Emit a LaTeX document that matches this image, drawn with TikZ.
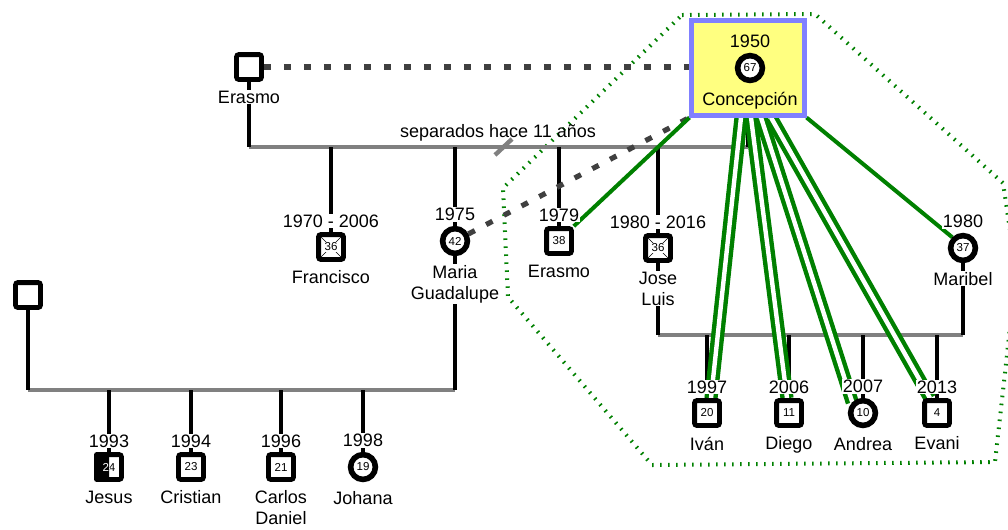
\documentclass[tikz,border=0pt]{standalone}
\usepackage{fontspec}
\setmainfont{Liberation Sans}
\usetikzlibrary{positioning,backgrounds}

\setlength{\fboxsep}{0.5pt}
\newcommand{\txt}{\fontsize{12.8pt}{15pt}\selectfont}
\newcommand{\edad}{\fontsize{8.2pt}{9pt}\selectfont}
\newcommand{\muerto}[1]{\colorbox{white}{#1}}

\definecolor{verde}{HTML}{008000}
\definecolor{amarillo}{HTML}{FFFF80}
\definecolor{lila}{HTML}{8080FF}
\definecolor{gris}{HTML}{808080}
\definecolor{grisosc}{HTML}{404040}

\tikzset{
  hombre/.style={draw, fill=white, line width=0.12cm, rounded corners=1.5pt,
    minimum size=0.62cm, inner sep=0pt, font=\edad},
  mujer/.style={draw, fill=white, circle, line width=0.14cm,
    minimum size=0.62cm, inner sep=0pt, font=\edad},
  fallecido/.style={path picture={
    \draw[line width=0.3pt] (path picture bounding box.north west) -- (path picture bounding box.south east)
      (path picture bounding box.north east) -- (path picture bounding box.south west);}},
  anio/.style={fill=white, inner sep=0.5pt, font=\txt, above=0.1cm of #1},
  nombre/.style={fill=white, inner sep=0.5pt, font=\txt, align=center, below=0.2cm of #1},
  linea/.style={line width=0.11cm},
  union/.style={draw=gris, line width=0.11cm},
  cercana/.style={draw=verde, line width=0.1cm},
  fusionada/.style={draw=verde, line width=0.11cm, double=white, double distance=0.11cm},
  distante/.style={draw=grisosc, line width=0.13cm, dash pattern=on 0.18cm off 0.32cm},
  hogar/.style={draw=verde, line width=0.1cm, dash pattern=on 0.04cm off 0.16cm},
}

\begin{document}
\begin{tikzpicture}[x=0.025cm, y=-0.025cm]
  \useasboundingbox (0,0) rectangle (1008,529);

  % abuelos
  \node[hombre] (erasmo) at (249,67) {};
  \node[nombre=erasmo] (erasmoN) {Erasmo};
  \node[draw=lila, fill=amarillo, line width=0.125cm, minimum width=2.8cm, minimum height=2.35cm] (conc) at (748,68) {};
  \node[mujer] (concc) at (750,68) {67};
  \node[anio=concc, fill=none] (conccA) {1950};
  \node[nombre=concc, fill=none] (conccN) {Concepción};
  \node[font=\txt] (separados) at (498,133) {separados hace 11 años};

  % hijos
  \node[hombre, fallecido] (francisco) at (331,247) {\muerto{36}};
  \node[anio=francisco] (franciscoA) {1970 - 2006};
  \node[nombre=francisco] (franciscoN) {Francisco};
  \node[mujer] (maria) at (455,241) {42};
  \node[anio=maria] (mariaA) {1975};
  \node[nombre=maria] (mariaN) {Maria\\Guadalupe};
  \node[hombre] (erasmoj) at (559,241) {38};
  \node[anio=erasmoj] (erasmojA) {1979};
  \node[nombre=erasmoj] (erasmojN) {Erasmo};
  \node[hombre, fallecido] (jose) at (658,248) {\muerto{36}};
  \node[anio=jose] (joseA) {1980 - 2016};
  \node[nombre=jose] (joseN) {Jose\\Luis};
  \node[mujer] (maribel) at (963,248) {37};
  \node[anio=maribel] (maribelA) {1980};
  \node[nombre=maribel] (maribelN) {Maribel};

  % familia de Maria Guadalupe
  \node[hombre] (padre) at (28,295) {};
  \node[hombre] (jesus) at (109,467) {24};
  \begin{scope}
    \clip (jesus.north west) rectangle (jesus.south);
    \fill[rounded corners=1.5pt] (jesus.north west) rectangle (jesus.south east);
    \node[text=white, font=\edad] (jesusB) at (jesus) {24};
  \end{scope}
  \node[anio=jesus] (jesusA) {1993};
  \node[nombre=jesus] (jesusN) {Jesus};
  \node[hombre] (cristian) at (191,467) {23};
  \node[anio=cristian] (cristianA) {1994};
  \node[nombre=cristian] (cristianN) {Cristian};
  \node[hombre] (carlos) at (281,467) {21};
  \node[anio=carlos] (carlosA) {1996};
  \node[nombre=carlos] (carlosN) {Carlos\\Daniel};
  \node[mujer] (johana) at (363,467) {19};
  \node[anio=johana] (johanaA) {1998};
  \node[nombre=johana] (johanaN) {Johana};

  % nietos de Jose Luis y Maribel
  \node[hombre] (ivan) at (707,413) {20};
  \node[anio=ivan] (ivanA) {1997};
  \node[nombre=ivan] (ivanN) {Iván};
  \node[hombre] (diego) at (789,413) {11};
  \node[anio=diego] (diegoA) {2006};
  \node[nombre=diego] (diegoN) {Diego};
  \node[mujer] (andrea) at (863,413) {10};
  \node[anio=andrea] (andreaA) {2007};
  \node[nombre=andrea] (andreaN) {Andrea};
  \node[hombre] (evani) at (937,413) {4};
  \node[anio=evani] (evaniA) {2013};
  \node[nombre=evani] (evaniN) {Evani};

  \begin{scope}[on background layer]
    % hogar
    \draw[hogar] (682,15) -- (815,14) -- (1003,183) -- (1016,270) -- (1007,355)
      -- (995,462) -- (652,465) -- (508,297) -- (503,188) -- cycle;

    % uniones
    \coordinate (u1) at (249,147);
    \coordinate (u2) at (28,390);
    \coordinate (u3) at (658,335);
    \coordinate (sep) at (503,147);
    \draw[union] (u1) -- (conc |- u1);
    \draw[union] (sep) ++(-8,8) -- ++(17,-16);
    \draw[union] (u2) -- (maria |- u2);
    \draw[union] (u3) -- (maribel |- u3);

    % descendencia
    \draw[linea] (erasmo) -- (u1);
    \draw[linea] (conc) -- (conc |- u1);
    \draw[linea] (padre) -- (u2);
    \draw[linea] (jose) -- (u3);
    \draw[linea] (maribel) -- (maribel |- u3);
    \draw[linea] (maria) -- (maria |- u2);
    \foreach \h in {francisco, maria, erasmoj, jose}
      \draw[linea] (\h |- u1) -- (\h);
    \foreach \h in {jesus, cristian, carlos, johana}
      \draw[linea] (\h |- u2) -- (\h);
    \foreach \h in {ivan, diego, andrea, evani}
      \draw[linea] (\h |- u3) -- (\h);

    % relaciones
    \draw[distante] (erasmo) -- (erasmo -| conc.west);
    \draw[distante] (maria) -- (conc.south west);
    \draw[cercana] (conc.south west) -- (erasmoj.north east);
    \draw[cercana] (conc.south east) -- (maribel.north west);
    \draw[fusionada] ([xshift=-0.175cm]conc.south) -- ([xshift=0.1cm]ivan.north);
    \draw[fusionada] ([xshift=0.075cm]conc.south) -- ([xshift=-0.05cm]diego.north);
    \draw[fusionada] ([xshift=0.325cm]conc.south) -- (andrea.north west);
    \draw[fusionada] ([xshift=0.575cm]conc.south) -- ([xshift=-0.175cm]evani.north);
  \end{scope}
\end{tikzpicture}
\end{document}
